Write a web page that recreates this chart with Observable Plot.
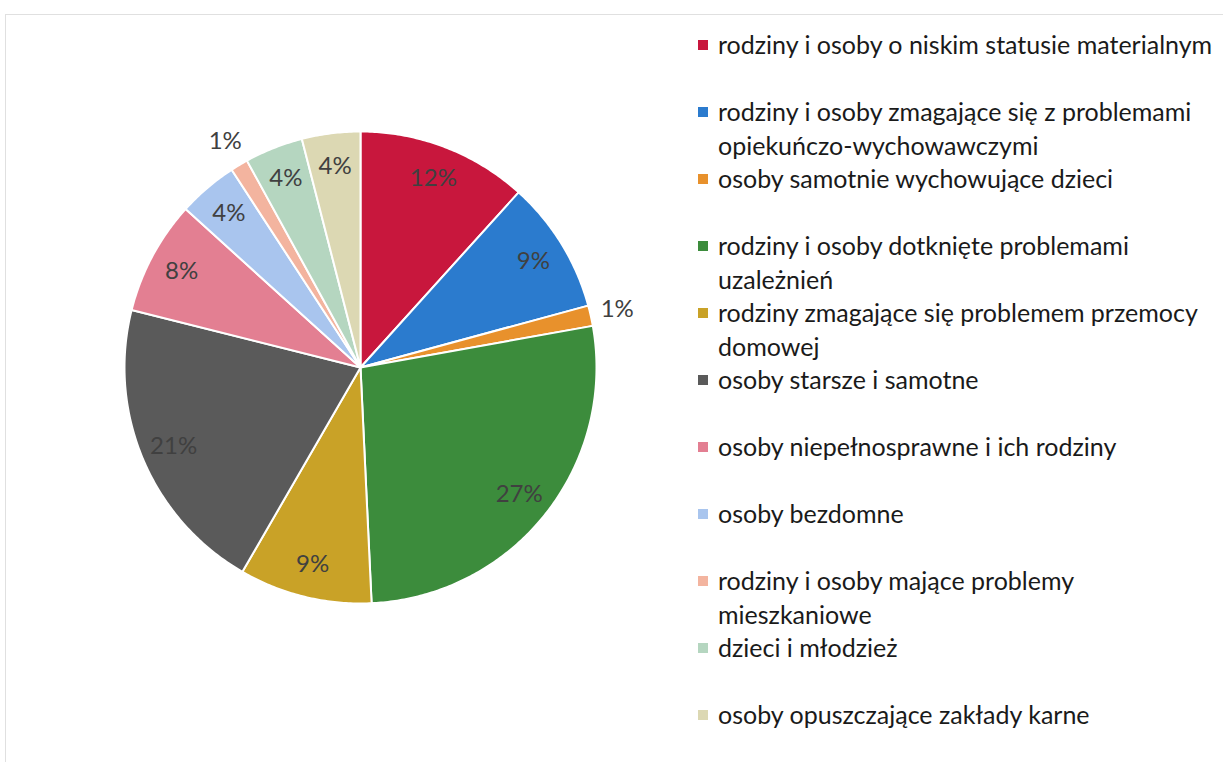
<!DOCTYPE html>
<html><head><meta charset="utf-8">
<script src="https://cdn.jsdelivr.net/npm/d3@7"></script>
<script src="https://cdn.jsdelivr.net/npm/@observablehq/plot@0.6"></script>
<style>
body{margin:0;background:#fff;width:1223px;height:762px;overflow:hidden;position:relative;font-family:Lato,"Open Sans",sans-serif;}
#frame{position:absolute;left:5px;top:14px;width:1300px;height:800px;border-top:1px solid #e0e0e0;border-left:1px solid #e0e0e0;}
#chart{position:absolute;left:0;top:0;}
#legend{position:absolute;left:698px;top:27px;}
.item{height:67px;display:flex;align-items:flex-start;}
.sw{width:10px;height:10px;margin-top:13px;margin-right:10px;flex:none}
.lb{font-size:25px;line-height:34px;color:#1a1a1a;white-space:pre;}
</style></head>
<body>
<div id="frame"></div>
<div id="chart"></div>
<div id="legend"></div>
<script>
const categories = [
  "rodziny i osoby o niskim statusie materialnym",
  "rodziny i osoby zmagające się z problemami\nopiekuńczo-wychowawczymi",
  "osoby samotnie wychowujące dzieci",
  "rodziny i osoby dotknięte problemami\nuzależnień",
  "rodziny zmagające się problemem przemocy\ndomowej",
  "osoby starsze i samotne",
  "osoby niepełnosprawne i ich rodziny",
  "osoby bezdomne",
  "rodziny i osoby mające problemy\nmieszkaniowe",
  "dzieci i młodzież",
  "osoby opuszczające zakłady karne"
];
const values = [11.7, 9.1, 1.4, 27.1, 9.1, 20.6, 7.8, 4.1, 1.2, 4.0, 4.0];
const colors = ["#c8173d","#2b7bce","#e8912c","#3c8c3c","#c9a227","#5a5a5a","#e37f92","#a9c5ee","#f3b49f","#b5d6c0","#dcd8b3"];

const total = d3.sum(values);
let acc = 0;
const slices = values.map((v, i) => {
  const a0 = acc / total * 2 * Math.PI; acc += v;
  const a1 = acc / total * 2 * Math.PI;
  return {cat: categories[i], a0, a1, pct: Math.round(v / total * 100)};
});
const pts = slices.flatMap(s => {
  const n = Math.max(2, Math.ceil((s.a1 - s.a0) / 0.01));
  const arr = [{cat: s.cat, x: 0, y: 0}];
  for (let k = 0; k <= n; k++) {
    const t = s.a0 + (s.a1 - s.a0) * k / n;
    arr.push({cat: s.cat, x: Math.sin(t), y: Math.cos(t)});
  }
  return arr;
});
const labels = slices.map(s => {
  const m = (s.a0 + s.a1) / 2;
  const r = s.pct <= 1 ? 1.115 : 0.86;
  return {x: r * Math.sin(m), y: r * Math.cos(m), text: s.pct + "%"};
});

const chart = Plot.plot({
  width: 700, height: 762,
  marginLeft: 124, marginRight: 104, marginTop: 131, marginBottom: 159,
  style: {fontFamily: "Lato, 'Open Sans', sans-serif", background: "transparent"},
  x: {domain: [-1, 1], axis: null},
  y: {domain: [-1, 1], axis: null},
  color: {domain: categories, range: colors},
  marks: [
    Plot.line(pts, {x: "x", y: "y", z: "cat", fill: "cat", stroke: "white", strokeWidth: 2, strokeLinejoin: "round", curve: "linear-closed"}),
    Plot.text(labels, {x: "x", y: "y", text: "text", fontSize: 24, fill: "#404040"})
  ]
});
document.getElementById("chart").appendChild(chart);

const leg = document.getElementById("legend");
categories.forEach((c, i) => {
  const it = document.createElement("div"); it.className = "item";
  const sw = document.createElement("div"); sw.className = "sw"; sw.style.background = colors[i];
  const lb = document.createElement("div"); lb.className = "lb"; lb.textContent = c;
  it.appendChild(sw); it.appendChild(lb); leg.appendChild(it);
});
</script>
</body></html>
